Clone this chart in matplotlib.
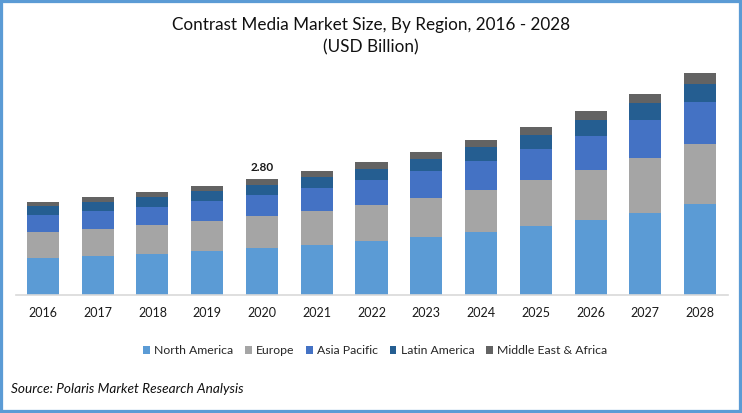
import matplotlib
matplotlib.use("Agg")
import matplotlib.pyplot as plt
from matplotlib.patches import Rectangle

years = [2016, 2017, 2018, 2019, 2020, 2021, 2022, 2023, 2024, 2025, 2026, 2027, 2028]
north_america = [0.89, 0.94, 0.99, 1.06, 1.14, 1.21, 1.30, 1.40, 1.52, 1.67, 1.81, 1.98, 2.20]
europe = [0.63, 0.65, 0.70, 0.72, 0.77, 0.82, 0.87, 0.94, 1.01, 1.11, 1.21, 1.33, 1.45]
asia_pacific = [0.41, 0.43, 0.43, 0.48, 0.51, 0.56, 0.60, 0.65, 0.70, 0.75, 0.82, 0.92, 1.01]
latin_america = [0.22, 0.22, 0.24, 0.24, 0.24, 0.27, 0.27, 0.29, 0.34, 0.34, 0.39, 0.41, 0.43]
mea = [0.10, 0.12, 0.12, 0.12, 0.14, 0.14, 0.17, 0.17, 0.17, 0.19, 0.22, 0.22, 0.27]

series = [
    ("North America", north_america, "#5B9BD5"),
    ("Europe", europe, "#A5A5A5"),
    ("Asia Pacific", asia_pacific, "#4472C4"),
    ("Latin America", latin_america, "#255E91"),
    ("Middle East & Africa", mea, "#636363"),
]

W, H = 742, 413
plt.rcParams["font.family"] = ["Lato", "DejaVu Sans"]

fig = plt.figure(figsize=(W / 100, H / 100), dpi=100)
# axes placed in pixels so the baseline lands where the reference has it
ax = fig.add_axes([15.5 / W, (H - 295) / H, 712 / W, 235 / H])

x = list(range(len(years)))
bottom = [0.0] * len(years)
for name, values, color in series:
    ax.bar(x, values, 0.585, bottom=bottom, color=color, label=name)
    bottom = [b + v for b, v in zip(bottom, values)]

ax.set_xlim(-0.5, 12.5)
ax.set_ylim(0, 235 / 41.43)
ax.set_xticks(x)
ax.set_xticklabels(years, fontsize=9, color="#1a1a1a")
ax.set_yticks([])
ax.tick_params(axis="x", length=0, pad=8.5)
for side in ["top", "left", "right"]:
    ax.spines[side].set_visible(False)
ax.spines["bottom"].set_color("#D9D9D9")
ax.spines["bottom"].set_linewidth(1.2)

ax.text(4, bottom[4] + 0.14, "2.80", ha="center", va="bottom", fontsize=8.5, fontweight="bold", color="#1a1a1a")

fig.text(371 / W, 1 - 25 / H, "Contrast Media Market Size, By Region, 2016 - 2028", ha="center", va="center", fontsize=12.3, color="#111111")
fig.text(371 / W, 1 - 47 / H, "(USD Billion)", ha="center", va="center", fontsize=12.3, color="#111111")

fig.legend(loc="center", bbox_to_anchor=(375 / W, 1 - 351 / H), ncol=5, frameon=False, fontsize=8.8,
           handlelength=0.55, handleheight=0.55, handletextpad=0.35, columnspacing=0.95, labelcolor="#262626")

fig.text(11 / W, 1 - 389 / H, "Source: Polaris Market Research Analysis", ha="left", va="center", fontsize=9.8, style="italic", color="#111111")

# blue frame round the whole picture
fig.add_artist(Rectangle((0, 0), 1, 1, transform=fig.transFigure, fill=False, edgecolor="#5B9BD5", linewidth=4.5))

fig.savefig("out.png", dpi=100)
